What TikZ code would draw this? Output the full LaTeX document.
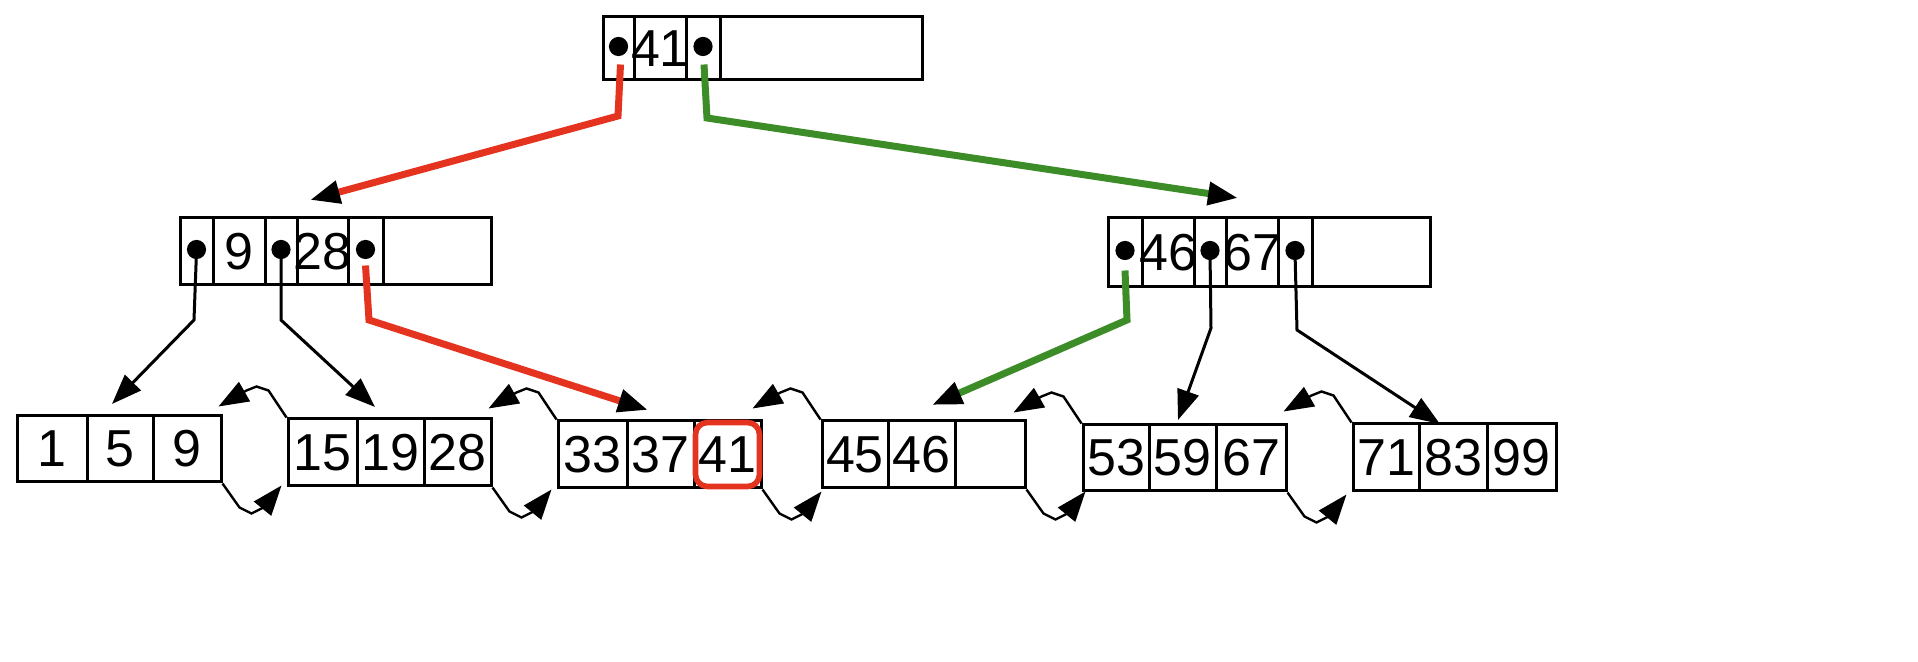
\documentclass[tikz,border=0pt]{standalone}
\usepackage{fontspec}
\setmainfont{Liberation Sans}
\usetikzlibrary{arrows.meta}
\definecolor{myred}{RGB}{228,52,32}
\definecolor{mygreen}{RGB}{60,140,40}
\tikzset{
  cellbox/.style={draw,line width=1.5pt,inner sep=0pt},
  celltxt/.style={font=\fontsize{26}{26}\selectfont},
  blk/.style={line width=1.5pt,-{Triangle[length=15pt,width=11pt]}},
  redl/.style={line width=3.5pt,myred,-{Triangle[length=15pt,width=11pt,fill=black,color=black]}},
  grnl/.style={line width=3.5pt,mygreen,-{Triangle[length=15pt,width=11pt,fill=black,color=black]}},
  lnk/.style={line width=1.2pt,-{Triangle[length=15pt,width=11pt]}},
}
\newcommand{\mycell}[7][]{%
  \pgfmathsetmacro{\cw}{(#4-#3)*0.5}\pgfmathsetmacro{\ch}{(#6-#5)*0.5}%
  \node[cellbox,minimum width=\cw pt,minimum height=\ch pt,label={[celltxt]center:#7},#1] (#2) at ({(#3+#4)/2},{(#5+#6)/2}) {};}
\newcommand{\mydot}[1]{\fill ([yshift=1pt]#1.center) circle (4.8pt);}
\begin{document}
\begin{tikzpicture}[x=0.5pt,y=-0.5pt]
% root
\mycell{r1}{603}{634}{17}{80}{}
\mycell{r2}{634}{686}{17}{80}{41}
\mycell{r3}{686}{720}{17}{80}{}
\mycell{r4}{720}{922}{17}{80}{}
% left internal
\mycell{a1}{180}{213}{218}{285}{}
\mycell{a2}{213}{265}{218}{285}{9}
\mycell{a3}{265}{297}{218}{285}{}
\mycell{a4}{297}{348}{218}{285}{28}
\mycell{a5}{348}{383}{218}{285}{}
\mycell{a6}{383}{491}{218}{285}{}
% right internal
\mycell{b1}{1108}{1142}{218}{287}{}
\mycell{b2}{1142}{1194}{218}{287}{46}
\mycell{b3}{1194}{1226}{218}{287}{}
\mycell{b4}{1226}{1278}{218}{287}{67}
\mycell{b5}{1278}{1312}{218}{287}{}
\mycell{b6}{1312}{1430}{218}{287}{}
% leaves
\mycell{l1a}{17}{87}{416}{482}{1}\mycell{l1b}{87}{153}{416}{482}{5}\mycell{l1c}{153}{221}{416}{482}{9}
\mycell{l2a}{288}{357}{419}{486}{15}\mycell{l2b}{357}{424}{419}{486}{19}\mycell{l2c}{424}{491}{419}{486}{28}
\mycell{l3a}{558}{627}{421}{488}{33}\mycell{l3b}{627}{694}{421}{488}{37}\mycell{l3c}{694}{761}{421}{488}{41}
\mycell{l4a}{822}{888}{421}{488}{45}\mycell{l4b}{888}{955}{421}{488}{46}\mycell{l4c}{955}{1025}{421}{488}{}
\mycell{l5a}{1083}{1149}{425}{491}{53}\mycell{l5b}{1149}{1216}{425}{491}{59}\mycell{l5c}{1216}{1286}{425}{491}{67}
\mycell{l6a}{1353}{1419}{424}{491}{71}\mycell{l6b}{1419}{1487}{424}{491}{83}\mycell{l6c}{1487}{1556}{424}{491}{99}
\draw[myred,line width=2.8pt,rounded corners=6pt] ([xshift=1.5pt,yshift=1.5pt]l3c.south west) rectangle ([xshift=-1.5pt,yshift=-1.5pt]l3c.north east);
% pointer dots
\foreach \n in {r1,r3,a1,a3,a5,b1,b3,b5} {\mydot{\n}}
% targets
\coordinate (tA) at (310,200);
\coordinate (tB) at (1238,198);
\coordinate (t1) at (112,404);
\coordinate (t2) at (375,407);
\coordinate (t3) at (648,410);
\coordinate (t4) at (932,405);
\coordinate (t5) at (1178,420);
\coordinate (t6) at (1440,424);
% root edges
\draw[redl] (r1.center) ++(2,16) -- (618,116) -- (tA);
\draw[grnl] (r3.center) ++(1,16) -- (707,118) -- (tB);
% left internal edges
\draw[blk] (a1.center) -- (194,320) -- (t1);
\draw[blk] (a3.center) -- (281,320) -- (t2);
\draw[redl] (a5.center) ++(0,14) -- (369,320) -- (t3);
% right internal edges
\draw[grnl] (b1.center) ++(0,18) -- (1127,320) -- (t4);
\draw[blk] (b3.center) -- (1211,328) -- (t5);
\draw[blk] (b5.center) -- (1297,330) -- (t6);
% leaf links
\foreach \p/\q in {l1c/l2a,l2c/l3a,l3c/l4a,l4c/l5a,l5c/l6a} {
  \draw[lnk] (\q.north west) -- ++(-18,-27) -- ++(-12,-4) -- ++(-10,4) -- ++(-28,16);
  \draw[lnk] (\p.south east) -- ++(17,24) -- ++(12,6) -- ++(12,-6) -- ++(18,-22);
}
\pgfresetboundingbox
\path[use as bounding box] (0,0) rectangle (1918,662);
\end{tikzpicture}
\end{document}
